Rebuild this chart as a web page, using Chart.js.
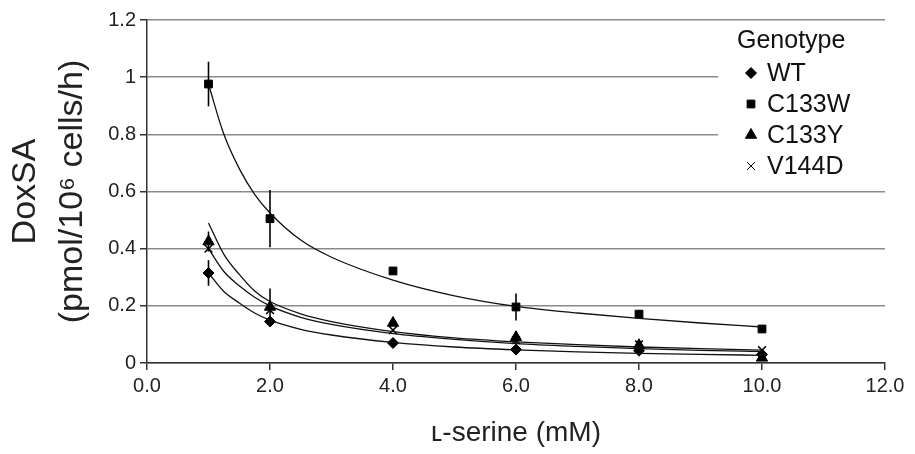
<!DOCTYPE html>
<html>
<head>
<meta charset="utf-8">
<script src="https://cdn.jsdelivr.net/npm/chart.js@4/dist/chart.umd.min.js"></script>
<style>
  html, body { margin: 0; padding: 0; background: #fff; }
  #wrap { width: 915px; height: 454px; position: relative; }
</style>
</head>
<body>
<div id="wrap"><canvas id="chart" width="915" height="454"></canvas></div>
<script>
// 측정값 (L-serine, mM)
const serine = [1, 2, 4, 6, 8, 10];

const wt     = [0.315, 0.145, 0.07, 0.047, 0.043, 0.03];
const c133w  = [0.976, 0.505, 0.322, 0.196, 0.171, 0.119];
const c133y  = [0.425, 0.196, 0.14, 0.09, 0.062, 0.018];
const v144d  = [0.4, 0.185, 0.115, 0.08, 0.065, 0.045];

// 오차 막대
const wtErr    = [0.045, 0.012, 0, 0, 0, 0];
const c133wErr = [0.078, 0.1, 0, 0.047, 0, 0];
const c133yErr = [0.035, 0.065, 0, 0.02, 0, 0];
const v144dErr = [0, 0, 0, 0, 0, 0];

// 추세선
const fitX      = [1, 1.25, 1.5, 1.75, 2, 2.5, 3, 4, 5, 6, 7, 8, 9, 10];
const fitC133w  = [0.975, 0.8, 0.68, 0.59, 0.525, 0.43, 0.37, 0.29, 0.235, 0.198, 0.175, 0.156, 0.14, 0.126];
const fitC133y  = [0.49, 0.38, 0.31, 0.252, 0.215, 0.172, 0.145, 0.11, 0.088, 0.074, 0.064, 0.056, 0.05, 0.045];
const fitV144d  = [0.4, 0.32, 0.27, 0.23, 0.2, 0.16, 0.135, 0.103, 0.083, 0.068, 0.058, 0.05, 0.044, 0.04];
const fitWt     = [0.315, 0.25, 0.21, 0.175, 0.15, 0.118, 0.098, 0.072, 0.056, 0.046, 0.039, 0.034, 0.03, 0.027];

const xTicks = [0, 2, 4, 6, 8, 10, 12];
const yTicks = [0, 0.2, 0.4, 0.6, 0.8, 1, 1.2];

const pts = (xs, ys) => xs.map((x, i) => ({x: x, y: ys[i]}));

function markerSet(label, ys, errs, style, radius){
    return {
        label: label,
        data: pts(serine, ys),
        err: errs,
        pointStyle: style,
        pointRadius: radius,
        pointBackgroundColor: '#000',
        pointBorderColor: '#000',
        pointBorderWidth: style === 'crossRot' ? 1.6 : 1,
        showLine: false,
        isMarker: true
    };
}
function fitSet(ys){
    return {
        label: '',
        data: pts(fitX, ys),
        showLine: true,
        borderColor: '#111',
        borderWidth: 1.3,
        pointRadius: 0,
        cubicInterpolationMode: 'monotone',
        fill: false
    };
}

// 오차 막대 그리기
const errorBars = {
    id: 'errorBars',
    afterDatasetsDraw(chart){
        const ctx = chart.ctx;
        const xs = chart.scales.x, ys = chart.scales.y;
        ctx.save();
        ctx.strokeStyle = '#000';
        ctx.lineWidth = 1.6;
        chart.data.datasets.forEach(ds => {
            if(!ds.err) return;
            ds.data.forEach((p, i) => {
                const e = ds.err[i];
                if(!e) return;
                const px = xs.getPixelForValue(p.x);
                ctx.beginPath();
                ctx.moveTo(px, ys.getPixelForValue(p.y + e));
                ctx.lineTo(px, ys.getPixelForValue(p.y - e));
                ctx.stroke();
            });
        });
        ctx.restore();
    }
};

// 범례 (흰 배경 상자)
const genoLegend = {
    id: 'genoLegend',
    afterDraw(chart){
        const ctx = chart.ctx;
        const area = chart.chartArea;
        const x0 = 718, y0 = area.top + 1.5, y1 = chart.scales.y.getPixelForValue(0.6) - 1.5;
        ctx.save();
        ctx.fillStyle = '#fff';
        ctx.fillRect(x0, y0, area.right - x0 + 1, y1 - y0);
        ctx.fillStyle = '#111';
        ctx.textBaseline = 'middle';
        ctx.font = '25px "Liberation Sans", Arial, sans-serif';
        ctx.fillText('Genotype', 737, 41);
        let y = 73;
        chart.data.datasets.filter(d => d.isMarker).forEach(ds => {
            ctx.fillStyle = '#000';
            ctx.strokeStyle = '#000';
            Chart.helpers.drawPoint(ctx, {
                pointStyle: ds.pointStyle,
                radius: ds.pointRadius,
                rotation: 0,
                borderWidth: ds.pointBorderWidth
            }, 751, y);
            ctx.fillStyle = '#111';
            ctx.fillText(ds.label, 767, y + 1);
            y += 31;
        });
        ctx.restore();
    }
};

const fontFam = '"Liberation Sans", Arial, sans-serif';

new Chart(document.getElementById('chart'), {
    type: 'scatter',
    data: {
        datasets: [
            fitSet(fitC133w),
            fitSet(fitC133y),
            fitSet(fitV144d),
            fitSet(fitWt),
            markerSet('WT', wt, wtErr, 'rectRot', 5.5),
            markerSet('C133W', c133w, c133wErr, 'rect', 5.5),
            markerSet('C133Y', c133y, c133yErr, 'triangle', 6.5),
            markerSet('V144D', v144d, v144dErr, 'crossRot', 5.5)
        ]
    },
    options: {
        responsive: false,
        animation: false,
        layout: { padding: { top: 20, right: 30, left: 0, bottom: 0 } },
        plugins: {
            legend: { display: false },
            tooltip: { enabled: false }
        },
        scales: {
            x: {
                type: 'linear',
                min: 0, max: 12,
                afterBuildTicks(scale){ scale.ticks = xTicks.map(v => ({value: v})); },
                afterFit(scale){ scale.height = 91; },
                border: { color: '#333', width: 1.5 },
                grid: { drawOnChartArea: false, drawTicks: true, tickLength: 7, tickColor: '#333', lineWidth: 1.5 },
                ticks: {
                    color: '#222',
                    padding: 4,
                    font: { size: 20, family: fontFam },
                    callback: v => Number(v).toFixed(1)
                },
                title: {
                    display: true,
                    text: 'ʟ-serine (mM)',
                    color: '#222',
                    font: { size: 28, family: fontFam },
                    padding: { top: 6 }
                }
            },
            y: {
                type: 'linear',
                min: 0, max: 1.2,
                afterBuildTicks(scale){ scale.ticks = yTicks.map(v => ({value: v})); },
                afterFit(scale){ scale.width = 147; },
                border: { color: '#333', width: 1.5 },
                grid: { color: '#8a8a8a', lineWidth: 1.5, drawTicks: true, tickLength: 7, tickColor: '#333' },
                ticks: {
                    color: '#222',
                    padding: 4,
                    font: { size: 20, family: fontFam },
                    callback: v => {
                        const r = Math.round(v * 10) / 10;
                        return (r === 0 || r === 1) ? String(r) : r.toFixed(1);
                    }
                },
                title: {
                    display: true,
                    text: ['DoxSA', '(pmol/10⁶ cells/h)'],
                    color: '#222',
                    font: { size: 34, family: fontFam, lineHeight: 1.38 },
                    padding: { top: 2, bottom: 4 }
                }
            }
        }
    },
    plugins: [errorBars, genoLegend]
});
</script>
</body>
</html>
